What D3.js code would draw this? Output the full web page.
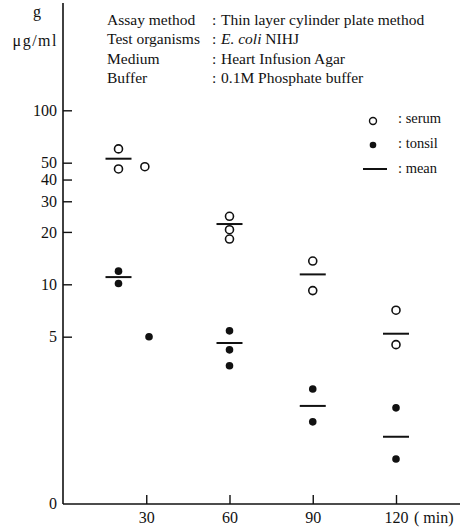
<!DOCTYPE html>
<html><head><meta charset="utf-8">
<script src="https://cdn.jsdelivr.net/npm/d3@7/dist/d3.min.js"></script>
<style>
body{margin:0;background:#fff;}
text{font-family:"Liberation Serif","Times New Roman",serif;fill:#111;}
</style></head>
<body>
<svg id="c" width="465" height="528"></svg>
<script>
// ---- data ----
const serumTimes  = [20, 20, 29.5, 60, 60, 60, 90, 90, 120, 120];
const serumValues = [60, 46, 47.4, 24.6, 20.6, 18.2, 13.6, 9.2, 7.1, 4.5];
const tonsilTimes  = [20, 20, 31, 60, 60, 60, 90, 90, 120, 120];
const tonsilValues = [11.9, 10.1, 5.0, 5.4, 4.2, 3.4, 2.5, 1.62, 1.95, 0.99];
const meanTimes = [20, 60, 90, 120];
const serumMeans  = [52.7, 22.2, 11.4, 5.2];
const tonsilMeans = [11.0, 4.6, 2.0, 1.33];
const yTicks = [5, 10, 20, 30, 40, 50, 100];
const xTicks = [30, 60, 90, 120];
const infoLabels = ["Assay method", "Test organisms", "Medium", "Buffer"];
const infoValues = ["Thin layer cylinder plate method", "E. coli NIHJ", "Heart Infusion Agar", "0.1M Phosphate buffer"];
const legendLabels = [": serum", ": tonsil", ": mean"];

// ---- chart ----
const svg = d3.select("#c");
const x = d3.scaleLinear().domain([0, 120]).range([63, 396]);
const y = d3.scaleLog().domain([1, 100]).range([458.3, 110.3]);
const axisY0 = 504;
const serif = "'Liberation Serif','Times New Roman',serif";

// axis lines
svg.append("line").attr("x1", 63).attr("x2", 63).attr("y1", 3).attr("y2", axisY0)
  .attr("stroke", "#111").attr("stroke-width", 1.6);
svg.append("line").attr("x1", 63).attr("x2", 460).attr("y1", axisY0).attr("y2", axisY0)
  .attr("stroke", "#111").attr("stroke-width", 1.6);

// y axis ticks
const gy = svg.append("g").attr("transform", "translate(63,0)")
  .call(d3.axisLeft(y).tickValues(yTicks).tickFormat(d3.format("d")).tickSize(-9).tickPadding(6))
  .attr("font-family", serif).attr("font-size", 16);
gy.select(".domain").remove();
gy.selectAll(".tick line").attr("stroke", "#111").attr("stroke-width", 1.4);
gy.selectAll(".tick text").attr("fill", "#111").style("font-family", serif).style("font-size", "16px");
// zero label at bottom (broken axis)
svg.append("text").attr("x", 57).attr("y", axisY0 + 5).attr("text-anchor", "end")
  .style("font-size", "16px").text("0");

// x axis ticks
const gx = svg.append("g").attr("transform", `translate(0,${axisY0})`)
  .call(d3.axisBottom(x).tickValues(xTicks).tickFormat(d3.format("d")).tickSize(-9).tickPadding(8))
  .attr("font-family", serif).attr("font-size", 16);
gx.select(".domain").remove();
gx.selectAll(".tick line").attr("stroke", "#111").attr("stroke-width", 1.4);
gx.selectAll(".tick text").attr("fill", "#111").style("font-family", serif).style("font-size", "16px");
svg.append("text").attr("x", 414).attr("y", 523).style("font-size", "16px").text("( min)");

// unit label
svg.append("text").attr("x", 37).attr("y", 17).attr("text-anchor", "middle").style("font-size", "16px").text("g");
svg.append("text").attr("x", 58).attr("y", 46).attr("text-anchor", "end").style("font-size", "16px")
  .style("letter-spacing", "1.5px").text("μg/ml");

// info block
infoLabels.forEach((l, i) => {
  const yy = 25 + i * 19.3;
  svg.append("text").attr("x", 107).attr("y", yy).style("font-size", "15.5px").text(l);
  svg.append("text").attr("x", 212).attr("y", yy).style("font-size", "15.5px").text(":");
  const t = svg.append("text").attr("x", 221).attr("y", yy).style("font-size", "15.5px");
  if (i === 1) {
    t.append("tspan").style("font-style", "italic").text("E. coli");
    t.append("tspan").text(" NIHJ");
  } else t.text(infoValues[i]);
});

// serum points (open)
svg.append("g").selectAll("circle").data(serumValues).join("circle")
  .attr("cx", (d, i) => x(serumTimes[i])).attr("cy", d => y(d)).attr("r", 4)
  .attr("fill", "#fff").attr("stroke", "#111").attr("stroke-width", 1.6);
// tonsil points (filled)
svg.append("g").selectAll("circle").data(tonsilValues).join("circle")
  .attr("cx", (d, i) => x(tonsilTimes[i])).attr("cy", d => y(d)).attr("r", 3.8)
  .attr("fill", "#111");
// mean lines
const meanLine = (vals) => svg.append("g").selectAll("line").data(vals).join("line")
  .attr("x1", (d, i) => x(meanTimes[i]) - 13).attr("x2", (d, i) => x(meanTimes[i]) + 13)
  .attr("y1", d => y(d)).attr("y2", d => y(d))
  .attr("stroke", "#111").attr("stroke-width", 2);
meanLine(serumMeans);
meanLine(tonsilMeans);

// legend
const lg = svg.append("g");
lg.append("circle").attr("cx", 373).attr("cy", 121).attr("r", 3.5)
  .attr("fill", "#fff").attr("stroke", "#111").attr("stroke-width", 1.4);
lg.append("circle").attr("cx", 373).attr("cy", 145).attr("r", 3.3).attr("fill", "#111");
lg.append("line").attr("x1", 363).attr("x2", 387).attr("y1", 169).attr("y2", 169)
  .attr("stroke", "#111").attr("stroke-width", 2);
legendLabels.forEach((l, i) => {
  lg.append("text").attr("x", 398).attr("y", [123, 148, 173][i]).style("font-size", "14.5px").text(l);
});
</script>
</body></html>
